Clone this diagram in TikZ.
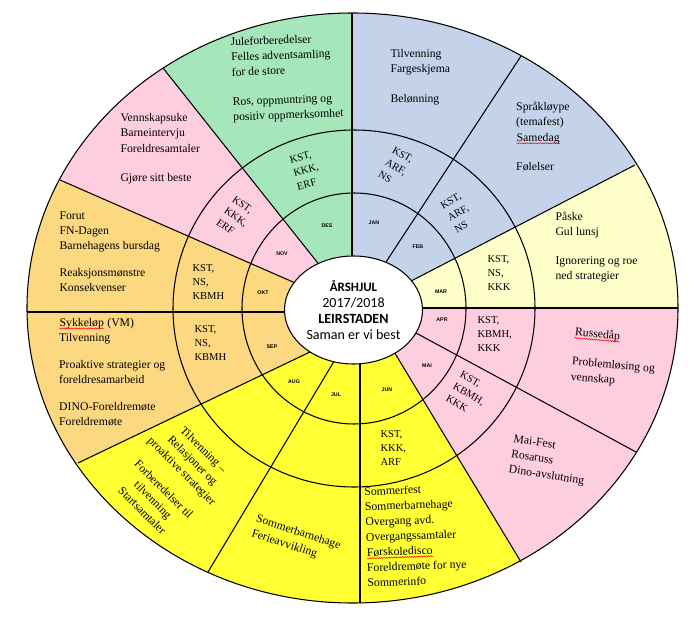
\documentclass[tikz,border=0pt]{standalone}
\usepackage{fontspec}
\setmainfont{Liberation Serif}
\newfontfamily\hubfont{Carlito}
\newfontfamily\monthfont{Liberation Sans}
\usepackage{tikz}
\usetikzlibrary{calc,shapes.geometric,decorations.pathmorphing}
\definecolor{wheelgreen}{RGB}{166,230,187}
\definecolor{wheelblue}{RGB}{197,211,234}
\definecolor{wheelpink}{RGB}{255,206,222}
\definecolor{wheelorange}{RGB}{252,216,128}
\definecolor{wheelyellow}{RGB}{255,255,51}
\definecolor{wheelcream}{RGB}{255,255,202}
\newcommand\spelling[1]{\tikz[baseline=(word.base)]{\node[inner sep=0pt] (word) {#1};
  \draw[red, line width=0.4pt, decorate, decoration={snake, amplitude=0.5pt, segment length=2pt}]
    ([yshift=-1.8pt]word.base west) -- ([yshift=-1.8pt]word.base east);}}

\begin{document}
\begin{tikzpicture}[x=0.3mm, y=-0.3mm, line width=0.9pt]
\tikzstyle{events} = [inner sep=0pt, align=left, font=\fontsize{10}{13}\selectfont]
\tikzstyle{staff} = [inner sep=0pt, align=left, font=\fontsize{9}{12}\selectfont]
\tikzstyle{month} = [inner sep=0pt, font=\monthfont\bfseries\fontsize{4.5}{5}\selectfont]
\tikzstyle{hub} = [draw, fill=white, ellipse, inner sep=0pt, minimum width=41.4mm, minimum height=32.4mm, align=center, font=\hubfont\fontsize{12}{13.7}\selectfont]

\useasboundingbox (0,0) rectangle (697,628);

    % spokes: where they leave the hub (a) and meet the rim (b)
    \foreach \i/\ax/\ay/\bx/\by in {1/352/258/352/13, 2/386/262/521/56, 3/415/279/635/165,
      4/421/308/678/308, 5/416/333/636/452, 6/396/355/521/562, 7/360/361/360/603,
      8/333/363/208/572, 9/310/352/78/463, 10/286/312/27/312, 11/293/282/60/180,
      12/317/262/163/68}
    {
      \coordinate (a\i) at (\ax,\ay);
      \coordinate (b\i) at (\bx,\by);
    }

    % colour the months
    \begin{scope}
    \clip (352.5,308) ellipse [x radius=325.5, y radius=295];
    \foreach \p/\q/\col in {1/2/wheelblue, 2/3/wheelblue, 3/4/wheelcream, 4/5/wheelpink,
      5/6/wheelpink, 6/7/wheelyellow, 7/8/wheelyellow, 8/9/wheelyellow, 9/10/wheelorange,
      10/11/wheelorange, 11/12/wheelpink, 12/1/wheelgreen}
      \fill[\col] ($(b\p)!1.1!(a\p)$) -- ($(a\p)!1.5!(b\p)$) -- ($(a\q)!1.5!(b\q)$) -- ($(b\q)!1.1!(a\q)$) -- cycle;
    \end{scope}

    \draw (354,308.5) ellipse [x radius=112, y radius=115.5];
    \draw (354,308.5) ellipse [x radius=181, y radius=178.5];
    \draw (352.5,308) ellipse [x radius=325.5, y radius=295];
    \foreach \i in {1,...,12}
      \draw ($(b\i)!1.08!(a\i)$) -- (b\i);

    \node [hub] (hub) at (353.5,310) {{\fontsize{11}{13.7}\selectfont\bfseries ÅRSHJUL}\\2017/2018\\{\bfseries LEIRSTADEN}\\Saman er vi best};

    % month names
    \node [month] (des) at (327,226) {DES};
    \node [month] (jan) at (374,223) {JAN};
    \node [month] (feb) at (418,247) {FEB};
    \node [month] (mar) at (441,292) {MAR};
    \node [month] (apr) at (442,320) {APR};
    \node [month] (mai) at (427,366) {MAI};
    \node [month] (jun) at (387,390) {JUN};
    \node [month] (jul) at (336,395) {JUL};
    \node [month] (aug) at (294,382) {AUG};
    \node [month] (sep) at (272,347) {SEP};
    \node [month] (okt) at (263,293) {OKT};
    \node [month] (nov) at (282,254) {NOV};

    % who is responsible
    \node [staff, rotate=15] (desstaff) at (306,170) {KST,\\KKK,\\ERF};
    \node [staff, rotate=-30] (janstaff) at (396,167) {KST,\\ARF,\\NS};
    \node [staff, rotate=30] (febstaff) at (458,213) {KST,\\ARF,\\NS};
    \node [staff, anchor=north west] (marstaff) at (487,255) {KST,\\NS,\\KKK};
    \node [staff, anchor=north west] (aprstaff) at (477,316) {KST,\\KBMH,\\KKK};
    \node [staff, rotate=-30] (maistaff) at (469,394) {KST,\\KBMH,\\KKK};
    \node [staff, anchor=north west] (junstaff) at (380,430) {KST,\\KKK,\\ARF};
    \node [staff, anchor=north west] (sepstaff) at (194,325) {KST,\\NS,\\KBMH};
    \node [staff, anchor=north west] (oktstaff) at (192,264) {KST,\\NS,\\KBMH};
    \node [staff, rotate=-35] (novstaff) at (236,217) {KST,\\KKK,\\ERF};

    % what happens each month
    \node [events, anchor=north west, rotate=2] (desev) at (230,37) {Juleforberedelser\\Felles adventsamling\\for de store\\[12pt]Ros, oppmuntring og\\positiv oppmerksomhet};
    \node [events, anchor=north west] (janev) at (390,49) {Tilvenning\\Fargeskjema\\[12pt]Belønning};
    \node [events, anchor=north west] (febev) at (516,102) {Språkløype\\(temafest)\\\spelling{Samedag}\\[12pt]Følelser};
    \node [events, anchor=north west] (marev) at (555,211) {Påske\\Gul lunsj\\[12pt]Ignorering og roe\\ned strategier};
    \node [events, anchor=north west, rotate=-5] (aprev) at (575,327) {\spelling{Russedåp}\\[12pt]Problemløsing og\\vennskap};
    \node [events, anchor=north west, rotate=-9] (maiev) at (514,434) {Mai-Fest\\Rosaruss\\Dino-avslutning};
    \node [events, anchor=north west, rotate=2] (junev) at (364,487) {Sommerfest\\Sommerbarnehage\\Overgang avd.\\Overgangssamtaler\\\spelling{Førskoledisco}\\Foreldremøte for nye\\Sommerinfo};
    \node [events, rotate=-18] (julev) at (296,540) {Sommerbarnehage\\Ferieavvikling};
    \node [events, align=center, rotate=-45] (augev) at (173,480) {Tilvenning --\\Relasjoner og\\proaktive strategier\\[9pt]Forberedelser til\\tilvenning\\Startsamtaler};
    \node [events, anchor=north west] (sepev) at (59,318) {\spelling{Sykkeløp} (VM)\\Tilvenning\\[10pt]Proaktive strategier og\\foreldresamarbeid\\[10pt]DINO-Foreldremøte\\Foreldremøte};
    \node [events, anchor=north west] (oktev) at (59,211) {Forut\\FN-Dagen\\Barnehagens bursdag\\[10pt]Reaksjonsmønstre\\Konsekvenser};
    \node [events, anchor=north west] (novev) at (120,113) {Vennskapsuke\\Barneintervju\\Foreldresamtaler\\[12pt]Gjøre sitt beste};

\end{tikzpicture}
\end{document}
